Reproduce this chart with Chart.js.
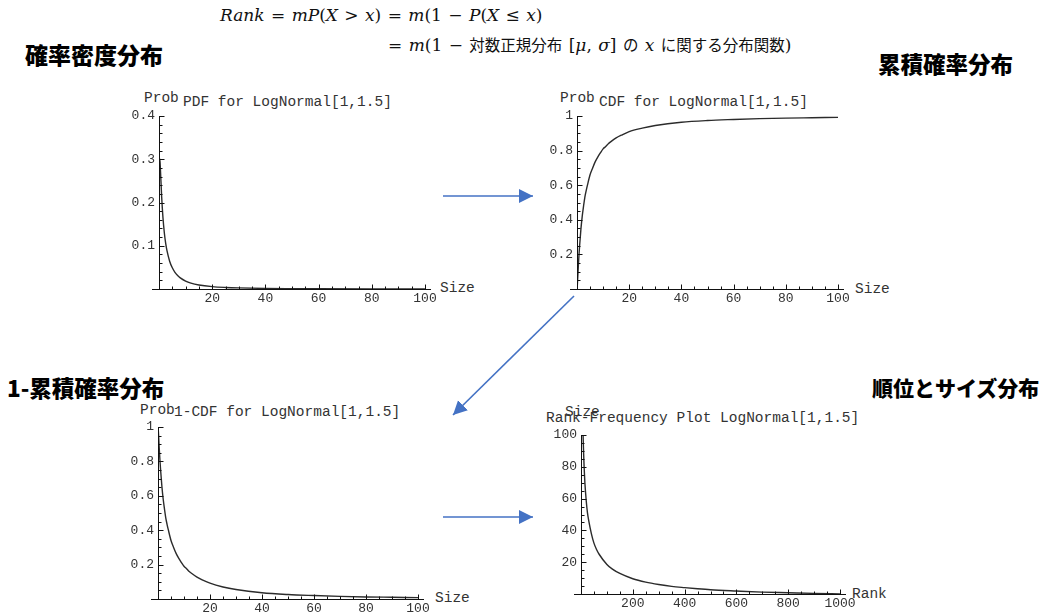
<!DOCTYPE html>
<html lang="ja">
<head>
<meta charset="utf-8">
<title>LogNormal[1,1.5]</title>
<script src="https://cdn.jsdelivr.net/npm/chart.js@4.4.1/dist/chart.umd.min.js"></script>
<style>
  html, body { margin: 0; padding: 0; background: #fff; }
  #page { position: relative; width: 1046px; height: 614px; overflow: hidden; background: #fff; }
  .abs { position: absolute; white-space: nowrap; line-height: 1; }
  .math { font-family: "DejaVu Serif", "Liberation Serif", serif; font-size: 17px; color: #111; word-spacing: 1px; }
  .math i { font-style: italic; }
  .math .jp { font-family: "Noto Sans CJK JP", sans-serif; font-size: 15.5px; font-weight: 400; }
  .head { font-family: "Noto Sans CJK JP", sans-serif; font-weight: 900; color: #000; }
  .mono { font-family: "Courier New", "Liberation Mono", monospace; font-size: 14.5px; color: #333; }
  canvas { position: absolute; }
  svg { position: absolute; left: 0; top: 0; }
</style>
</head>
<body>
<div id="page">
  <!-- 数式 -->
  <div class="abs math" style="left:220px; top:7px;"><i>Rank</i> = <i>mP</i>(<i>X</i> &gt; <i>x</i>) = <i>m</i>(1 − <i>P</i>(<i>X</i> ≤ <i>x</i>)</div>
  <div class="abs math" style="left:388px; top:37px;">= <i>m</i>(1 − <span class="jp">対数正規分布</span> [<i>μ</i>, <i>σ</i>] <span class="jp">の</span> <i>x</i> <span class="jp">に関する分布関数</span>)</div>

  <!-- 見出し -->
  <div class="abs head" style="left:25px; top:43px; font-size:23px;">確率密度分布</div>
  <div class="abs head" style="left:878px; top:52px; font-size:22.5px;">累積確率分布</div>
  <div class="abs head" style="left:7px; top:376px; font-size:22.5px;">1-累積確率分布</div>
  <div class="abs head" style="left:872px; top:377px; font-size:21px;">順位とサイズ分布</div>

  <!-- グラフのラベル -->
  <div class="abs mono" style="left:144px; top:91px;">Prob</div>
  <div class="abs mono" style="left:183px; top:95px;">PDF for LogNormal[1,1.5]</div>
  <div class="abs mono" style="left:440px; top:281px;">Size</div>

  <div class="abs mono" style="left:560px; top:91px;">Prob</div>
  <div class="abs mono" style="left:599px; top:95px;">CDF for LogNormal[1,1.5]</div>
  <div class="abs mono" style="left:855px; top:282px;">Size</div>

  <div class="abs mono" style="left:140px; top:403px;">Prob</div>
  <div class="abs mono" style="left:174px; top:405px;">1-CDF for LogNormal[1,1.5]</div>
  <div class="abs mono" style="left:435px; top:591px;">Size</div>

  <div class="abs mono" style="left:565px; top:405px;">Size</div>
  <div class="abs mono" style="left:546px; top:411px;">Rank-Frequency Plot LogNormal[1,1.5]</div>
  <div class="abs mono" style="left:852px; top:587px;">Rank</div>

  <!-- 矢印 -->
  <svg width="1046" height="614">
    <defs>
      <marker id="ah" markerUnits="userSpaceOnUse" markerWidth="16" markerHeight="16" refX="14" refY="7" orient="auto">
        <path d="M0,0 L14,7 L0,14 z" fill="#4472C4"></path>
      </marker>
    </defs>
    <line x1="443" y1="196" x2="533" y2="196" stroke="#4472C4" stroke-width="1.6" marker-end="url(#ah)"></line>
    <line x1="574" y1="296" x2="453" y2="415" stroke="#4472C4" stroke-width="1.6" marker-end="url(#ah)"></line>
    <line x1="443" y1="517" x2="533" y2="517" stroke="#4472C4" stroke-width="1.6" marker-end="url(#ah)"></line>
  </svg>
</div>

<script>
// 確率密度 (PDF)
const pdfSize = [0, 0.05, 0.1, 0.2, 0.3, 0.5, 1, 1.5, 2, 2.5, 3, 4, 5, 6, 7, 8, 10, 12, 15, 20, 25, 30, 40, 50, 60, 80, 100];
const pdfProb = [0, 0.15, 0.236, 0.293, 0.301, 0.281, 0.213, 0.164, 0.130, 0.106, 0.0885, 0.0643, 0.049, 0.0386, 0.0312, 0.0257, 0.0183, 0.0136, 0.0093, 0.0055, 0.0036, 0.0025, 0.0013, 0.0008, 0.0005, 0.0003, 0.0002];

// 累積確率 (CDF)
const cdfSize = [0, 0.1, 0.25, 0.5, 0.75, 1, 1.5, 2, 2.5, 3, 3.5, 4, 5, 6, 7, 8, 9, 10, 11, 12, 13, 15, 17, 20, 25, 30, 40, 50, 60, 70, 80, 90, 100];
const cdfProb = [0, 0.014, 0.056, 0.13, 0.195, 0.25, 0.346, 0.42, 0.478, 0.53, 0.567, 0.60, 0.66, 0.70, 0.736, 0.764, 0.788, 0.81, 0.824, 0.84, 0.852, 0.873, 0.889, 0.91, 0.93, 0.945, 0.964, 0.974, 0.980, 0.985, 0.988, 0.990, 0.992];

// 1-累積確率 (1-CDF)
const ccdfSize = [0, 0.1, 0.25, 0.5, 0.75, 1, 1.5, 2, 2.5, 3, 3.5, 4, 5, 6, 7, 8, 9, 10, 11, 12, 13, 15, 17, 20, 25, 30, 40, 50, 60, 70, 80, 90, 100];
const ccdfProb = [1, 0.986, 0.944, 0.87, 0.805, 0.75, 0.654, 0.58, 0.522, 0.47, 0.433, 0.40, 0.34, 0.30, 0.264, 0.236, 0.212, 0.19, 0.176, 0.16, 0.148, 0.127, 0.111, 0.092, 0.070, 0.055, 0.036, 0.026, 0.020, 0.015, 0.012, 0.010, 0.008];

// 順位とサイズ
const rankRank = [8, 10, 12, 15, 20, 25, 30, 40, 50, 60, 70, 100, 120, 150, 200, 250, 300, 350, 400, 450, 500, 600, 700, 800, 900, 1000];
const rankSize = [100, 89, 80, 70, 59, 51, 46, 38, 32, 28, 25, 18.6, 15.8, 12.9, 9.6, 7.5, 6.0, 4.8, 4.0, 3.3, 2.7, 1.9, 1.2, 0.8, 0.4, 0.05];

// 目盛り
const sizeTicks = { min: 0, max: 100, step: 20, minor: 5 };
const pdfTicks = { min: 0, max: 0.4, step: 0.1, minor: 0.02 };
const probTicks = { min: 0, max: 1, step: 0.2, minor: 0.05 };
const rankTicks = { min: 0, max: 1000, step: 200, minor: 50 };
const rankSizeTicks = { min: 0, max: 100, step: 20, minor: 5 };

const MONO = '"Courier New", "Liberation Mono", monospace';
const PADL = 50, PADR = 60, PADT = 20, PADB = 30;

// Mathematica風の軸と内向きの目盛りを描くプラグイン
const mmaAxes = {
  id: 'mmaAxes',
  afterDatasetsDraw(chart, args, opts) {
    const { ctx, chartArea: a, scales: { x, y } } = chart;
    const x0 = Math.round(a.left) + 0.5;
    const y0 = Math.round(a.bottom) + 0.5;
    ctx.save();
    ctx.strokeStyle = '#111';
    ctx.lineWidth = 1;
    ctx.beginPath();
    ctx.moveTo(a.left - 7, y0);
    ctx.lineTo(a.right + 6, y0);
    ctx.moveTo(x0, a.bottom);
    ctx.lineTo(x0, a.top);
    const isMajor = (v, step) => Math.abs(v / step - Math.round(v / step)) < 1e-6;
    for (let i = 1; i * opts.x.minor <= opts.x.max + 1e-9; i++) {
      const v = i * opts.x.minor;
      const px = Math.round(x.getPixelForValue(v)) + 0.5;
      ctx.moveTo(px, y0);
      ctx.lineTo(px, y0 - (isMajor(v, opts.x.step) ? 5 : 3));
    }
    for (let i = 1; i * opts.y.minor <= opts.y.max + 1e-9; i++) {
      const v = i * opts.y.minor;
      const py = Math.round(y.getPixelForValue(v)) + 0.5;
      ctx.moveTo(x0, py);
      ctx.lineTo(x0 + (isMajor(v, opts.y.step) ? 5 : 3), py);
    }
    ctx.stroke();
    ctx.restore();
  }
};

// 0は表示しない。1.0→1、1,000→1000 のように表示する
function tickLabel(v) {
  return v === 0 ? '' : String(Math.round(v * 1000) / 1000);
}

function axisOptions(t, isX) {
  return {
    type: 'linear',
    min: t.min,
    max: t.max,
    ticks: {
      stepSize: t.step,
      color: '#333',
      font: { family: MONO, size: 13 },
      padding: isX ? 2 : 4,
      maxRotation: 0,
      autoSkip: false,
      callback: tickLabel,
    },
    grid: { display: false, drawTicks: false },
    border: { display: false },
    afterFit: isX ? (s) => { s.height = PADB; } : (s) => { s.width = PADL; },
  };
}

// グラフを描画する関数。areaはプロット領域のページ上の位置
function drawPlot(area, xs, ys, xTicks, yTicks) {
  const canvas = document.createElement('canvas');
  const w = area.r - area.l + PADL + PADR;
  const h = area.b - area.t + PADT + PADB;
  canvas.width = w;
  canvas.height = h;
  canvas.style.left = (area.l - PADL) + 'px';
  canvas.style.top = (area.t - PADT) + 'px';
  document.getElementById('page').appendChild(canvas);

  const points = xs.map((x, i) => ({ x: x, y: ys[i] }));
  return new Chart(canvas.getContext('2d'), {
    type: 'scatter',
    data: {
      datasets: [{
        data: points,
        showLine: true,
        borderColor: '#2b2b2b',
        borderWidth: 1.4,
        pointRadius: 0,
        cubicInterpolationMode: 'monotone',
      }],
    },
    options: {
      responsive: false,
      animation: false,
      events: [],
      layout: { padding: { left: 0, right: PADR, top: PADT, bottom: 0 } },
      plugins: {
        legend: { display: false },
        tooltip: { enabled: false },
        mmaAxes: { x: xTicks, y: yTicks },
      },
      scales: {
        x: axisOptions(xTicks, true),
        y: axisOptions(yTicks, false),
      },
    },
    plugins: [mmaAxes],
  });
}

drawPlot({ l: 159, r: 425, t: 116, b: 289 }, pdfSize, pdfProb, sizeTicks, pdfTicks);
drawPlot({ l: 577, r: 838, t: 116, b: 289 }, cdfSize, cdfProb, sizeTicks, probTicks);
drawPlot({ l: 158, r: 418, t: 427, b: 599 }, ccdfSize, ccdfProb, sizeTicks, probTicks);
drawPlot({ l: 581, r: 840, t: 435, b: 594 }, rankRank, rankSize, rankTicks, rankSizeTicks);
</script>
</body>
</html>
